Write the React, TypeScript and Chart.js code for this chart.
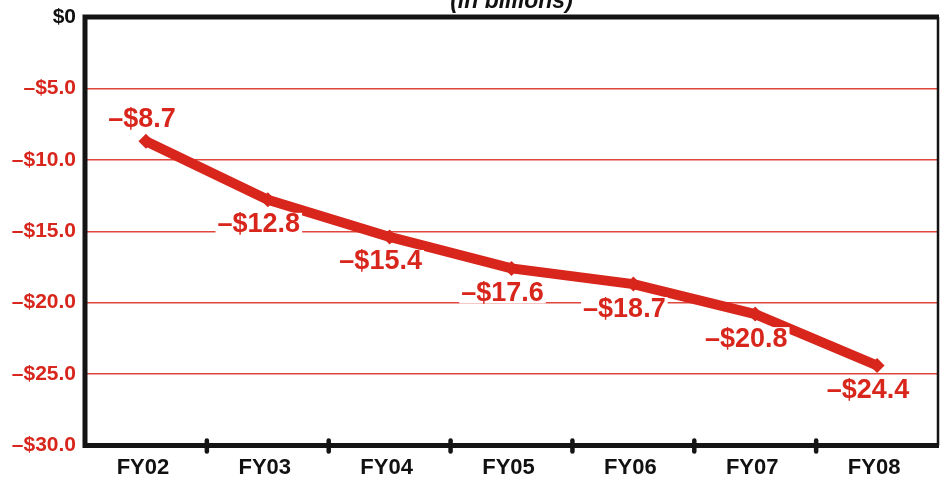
import React, { useEffect, useRef } from "react";
import { Chart, registerables } from "chart.js";

Chart.register(...registerables);

const categories = ["FY02", "FY03", "FY04", "FY05", "FY06", "FY07", "FY08"];
const values = [-8.7, -12.8, -15.4, -17.6, -18.7, -20.8, -24.4];
const valueLabels = ["–$8.7", "–$12.8", "–$15.4", "–$17.6", "–$18.7", "–$20.8", "–$24.4"];
const titleText = "(in billions)";

const RED = "#d8261d";
const FONT = "'Liberation Sans', Arial, sans-serif";

const framePlugin = {
  id: "frame",
  afterDraw(chart: any) {
    const { ctx, chartArea } = chart;
    const { left, right, top, bottom } = chartArea;
    ctx.save();
    // title
    ctx.fillStyle = "#111";
    ctx.font = `italic bold 23px ${FONT}`;
    ctx.textAlign = "center";
    ctx.textBaseline = "alphabetic";
    ctx.fillText(titleText, (left + right) / 2, 8);

    // category labels
    const xs = chart.scales.x;
    ctx.font = `bold 22px ${FONT}`;
    ctx.textBaseline = "middle";
    categories.forEach((c, i) => {
      ctx.fillText(c, xs.getPixelForValue(i) - 3, bottom + 22);
    });

    // frame
    ctx.strokeStyle = "#141414";
    ctx.lineCap = "butt";
    ctx.lineWidth = 2.5;
    ctx.beginPath();
    ctx.moveTo(right, top);
    ctx.lineTo(right, bottom);
    ctx.stroke();
    ctx.lineWidth = 5;
    ctx.beginPath();
    ctx.moveTo(left, top);
    ctx.lineTo(right + 1, top);
    ctx.moveTo(left, top - 2.5);
    ctx.lineTo(left, bottom + 2.5);
    ctx.moveTo(left - 2.5, bottom);
    ctx.lineTo(right + 1, bottom);
    ctx.stroke();

    // tick marks between categories
    ctx.lineWidth = 4.5;
    ctx.lineCap = "round";
    for (let i = 1; i < categories.length; i++) {
      const x = (xs.getPixelForValue(i - 1) + xs.getPixelForValue(i)) / 2;
      ctx.beginPath();
      ctx.moveTo(x, bottom - 5);
      ctx.lineTo(x, bottom + 6);
      ctx.stroke();
    }
    ctx.restore();
  },
};

const labelPlugin = {
  id: "valueLabels",
  afterDatasetsDraw(chart: any) {
    const { ctx } = chart;
    const meta = chart.getDatasetMeta(0);
    ctx.save();
    ctx.font = `bold 27px ${FONT}`;
    ctx.textAlign = "center";
    ctx.textBaseline = "middle";
    meta.data.forEach((pt: any, i: number) => {
      const above = i === 0;
      const x = pt.x + (above ? -4 : -9);
      const y = pt.y + (above ? -23 : 24);
      const text = valueLabels[i];
      const w = ctx.measureText(text).width;
      ctx.fillStyle = "#ffffff";
      ctx.fillRect(x - w / 2 - 2, y - 11, w + 4, 22);
      ctx.fillStyle = RED;
      ctx.fillText(text, x, y + 1);
    });
    ctx.restore();
  },
};

export default function App() {
  const ref = useRef<HTMLCanvasElement | null>(null);

  useEffect(() => {
    if (!ref.current) return;
    const chart = new Chart(ref.current, {
      type: "line",
      data: {
        labels: categories,
        datasets: [
          {
            data: values,
            borderColor: RED,
            backgroundColor: RED,
            borderWidth: 10,
            pointStyle: "rectRot",
            pointRadius: 7.5,
            pointBackgroundColor: RED,
            pointBorderColor: RED,
            pointBorderWidth: 0,
            tension: 0,
            borderJoinStyle: "round",
          },
        ],
      },
      options: {
        animation: false,
        responsive: false,
        maintainAspectRatio: false,
        layout: { autoPadding: false, padding: { top: 17, right: 2, left: 0, bottom: 0 } },
        plugins: {
          legend: { display: false },
          tooltip: { enabled: false },
          title: { display: false },
        },
        scales: {
          x: {
            type: "category",
            offset: true,
            border: { display: false },
            grid: { display: false, drawTicks: false },
            ticks: { display: false },
            afterFit(scale: any) {
              scale.height = 36.5;
              scale.paddingLeft = 0;
              scale.paddingRight = 0;
            },
          },
          y: {
            min: -30,
            max: 0,
            border: { display: false },
            grid: {
              drawTicks: false,
              lineWidth: 1.5,
              color: (ctx: any) => {
                const v = ctx.tick ? ctx.tick.value : 0;
                return v === 0 || v === -30 ? "rgba(0,0,0,0)" : "#e0463c";
              },
            },
            ticks: {
              stepSize: 5,
              padding: 9,
              font: { family: FONT, size: 21, weight: "bold" },
              color: (ctx: any) => (ctx.tick && ctx.tick.value === 0 ? "#111" : RED),
              callback: (v: any) => (v === 0 ? "$0" : "–$" + Math.abs(v).toFixed(1)),
            },
            afterFit(scale: any) {
              scale.width = 85;
              scale.paddingTop = 0;
              scale.paddingBottom = 0;
            },
          },
        },
      },
      plugins: [framePlugin, labelPlugin],
    } as any);
    return () => chart.destroy();
  }, []);

  return (
    <div style={{ position: "fixed", left: 0, top: 0, width: 940, height: 482, background: "#fff" }}>
      <canvas ref={ref} width={940} height={482} style={{ width: 940, height: 482, display: "block" }} />
    </div>
  );
}
